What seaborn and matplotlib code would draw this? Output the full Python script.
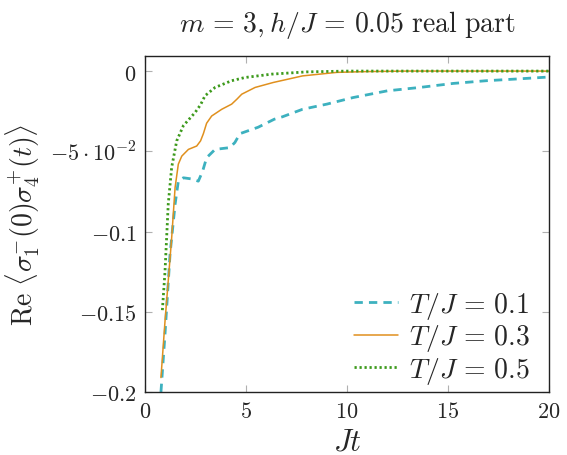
import numpy as np
import pandas as pd
import matplotlib
matplotlib.use("Agg")
import matplotlib.pyplot as plt
import seaborn as sns

# Data
t_01 = [0.79, 0.99, 1.24, 1.49, 1.65, 1.9, 2.3, 2.64, 2.85, 3.05, 3.47, 4.2, 4.45, 4.7, 5.6, 6.4, 6.8, 7.8, 9.0, 10.3, 12.0, 13.6, 15.25, 16.9, 18.3, 20.0]
y_01 = [-0.2, -0.164, -0.114, -0.083, -0.0686, -0.0665, -0.0672, -0.0686, -0.0625, -0.054, -0.0488, -0.0477, -0.0445, -0.039, -0.035, -0.030, -0.0285, -0.0238, -0.0206, -0.0165, -0.0123, -0.0102, -0.0077, -0.006, -0.005, -0.0037]

t_03 = [0.79, 0.99, 1.32, 1.49, 1.65, 1.82, 2.15, 2.56, 2.75, 2.89, 3.05, 3.3, 3.8, 4.29, 4.55, 4.79, 5.45, 6.35, 7.8, 9.5, 11.0, 13.0, 20.0]
y_03 = [-0.191, -0.156, -0.104, -0.0725, -0.058, -0.053, -0.0488, -0.0467, -0.0435, -0.039, -0.0325, -0.028, -0.0238, -0.0206, -0.0175, -0.0144, -0.0102, -0.0071, -0.003, -0.0008, -0.0003, 0.0, 0.0]

t_05 = [0.86, 0.99, 1.15, 1.32, 1.57, 1.9, 2.48, 2.75, 2.97, 3.47, 4.29, 4.95, 6.27, 8.0, 10.0, 20.0]
y_05 = [-0.149, -0.125, -0.083, -0.060, -0.0435, -0.034, -0.0258, -0.021, -0.0154, -0.0102, -0.006, -0.004, -0.0019, -0.0005, 0.0, 0.0]

labels = [r"$T/J\,=\,0.1$", r"$T/J\,=\,0.3$", r"$T/J\,=\,0.5$"]
colors = ["#3db1bf", "#e0901e", "#3d9a1c"]

x_ticks = [0, 5, 10, 15, 20]
y_ticks = [0, -0.05, -0.1, -0.15, -0.2]
y_ticklabels = [r"$0$", r"$-5\cdot10^{-2}$", r"$-0.1$", r"$-0.15$", r"$-0.2$"]

sns.set_style("white")
plt.rcParams["mathtext.fontset"] = "cm"
plt.rcParams["font.family"] = ["DejaVu Serif"]

fig = plt.figure(figsize=(5.67, 4.56), dpi=100)
ax = fig.add_axes([145/567, 1-393/456, (549-145)/567, (393-57)/456])

series = [(t_01, y_01), (t_03, y_03), (t_05, y_05)]
styles = [dict(ls=(0, (3.0, 2.2)), lw=2.0), dict(ls="-", lw=1.1), dict(ls=(0, (0.8, 1.0)), lw=2.0)]
for (t, y), lab, c, st in zip(series, labels, colors, styles):
    df = pd.DataFrame({"t": t, "y": y})
    sns.lineplot(data=df, x="t", y="y", ax=ax, color=c, label=lab,
                 linestyle=st["ls"], linewidth=st["lw"], estimator=None, sort=False)

ax.set_xlim(0, 20)
ax.set_ylim(-0.2, 0.0094)
ax.set_xticks(x_ticks)
ax.set_xticklabels([rf"${v}$" for v in x_ticks])
ax.set_yticks(y_ticks)
ax.set_yticklabels(y_ticklabels)
ax.tick_params(direction="in", length=5, width=0.8, color="#b0b0b0",
               top=True, right=True, bottom=True, left=True, labelsize=16, pad=6)
for s in ax.spines.values():
    s.set_color("#222222")
    s.set_linewidth(1.0)

ax.set_xlabel(r"$Jt$", fontsize=22, labelpad=2)
ax.set_ylabel(r"$\mathrm{Re}\ \langle\sigma_1^{-}(0)\sigma_4^{+}(t)\rangle$", fontsize=20, labelpad=6)
ax.set_title(r"$m\,=\,3, h/J\,=\,0.05\ \mathrm{real\ part}$", fontsize=20, pad=18)

leg = ax.legend(loc="lower right", bbox_to_anchor=(1 - 10/404, -2/336),
                fontsize=20, frameon=False,
                handlelength=1.6, handletextpad=0.4, labelspacing=0.05,
                borderpad=0.3, borderaxespad=0.0)

fig.savefig("out.png", dpi=100)
